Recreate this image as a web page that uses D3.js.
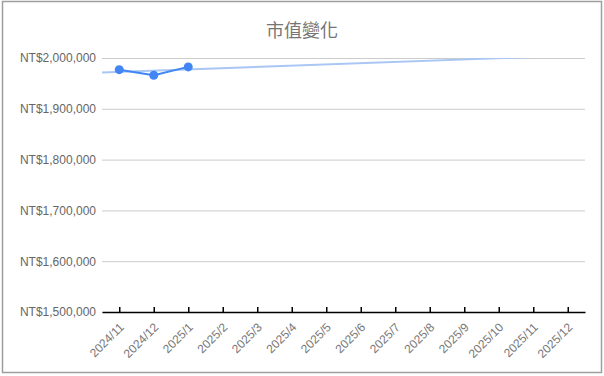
<!DOCTYPE html>
<html>
<head>
<meta charset="utf-8">
<script src="https://cdn.jsdelivr.net/npm/d3@7"></script>
<style>
  html, body { margin: 0; padding: 0; background: #fff; }
  svg { display: block; font-family: Roboto, "Noto Sans CJK TC", sans-serif; }
</style>
</head>
<body>
<div id="chart"></div>
<script>
(function() {
// chart data
var months = ["2024/11", "2024/12", "2025/1", "2025/2", "2025/3", "2025/4", "2025/5",
              "2025/6", "2025/7", "2025/8", "2025/9", "2025/10", "2025/11", "2025/12"];
var valueMonths = ["2024/11", "2024/12", "2025/1"];
var values = [1977000, 1966000, 1982500];
var trendMonths = ["2024/11", "2025/12"];
var trendValues = [1972900, 2004300];
var yTicks = [1500000, 1600000, 1700000, 1800000, 1900000, 2000000];
var title = "市值變化";

var width = 604, height = 376;
var margin = {top: 58, bottom: 64, left: 102, right: 19};

var svg = d3.select("#chart").append("svg")
            .attr("width", width)
            .attr("height", height);

// outer frame
svg.append("rect")
   .attr("x", 2.5).attr("y", 1.5)
   .attr("width", 599).attr("height", 371)
   .attr("fill", "#fff")
   .attr("stroke", "#9e9e9e")
   .attr("stroke-width", 1.5);

var plotW = width - margin.left - margin.right,
    plotH = height - margin.top - margin.bottom;

var xScale = d3.scalePoint()
               .domain(months)
               .range([margin.left, margin.left + plotW])
               .padding(0.5);

var yScale = d3.scaleLinear()
               .domain([1500000, 2000000])
               .range([margin.top + plotH, margin.top]);

var fmt = function(v) { return "NT$" + d3.format(",")(v); };

// gridlines + y labels
var yAxis = d3.axisLeft(yScale)
              .tickValues(yTicks)
              .tickFormat(fmt)
              .tickSize(-plotW)
              .tickPadding(6);
var yGroup = svg.append("g")
                .attr("transform", "translate(" + margin.left + ",0)")
                .call(yAxis);
yGroup.select(".domain").remove();
yGroup.selectAll(".tick line").attr("stroke", "#cccccc").attr("stroke-width", 1);
yGroup.selectAll(".tick text")
      .attr("fill", "#666")
      .style("font-size", "12px");

// x axis, ticks point up into the plot
var xAxis = d3.axisBottom(xScale)
              .tickSizeInner(-5)
              .tickSizeOuter(0);
var xGroup = svg.append("g")
                .attr("transform", "translate(0," + (margin.top + plotH) + ")")
                .call(xAxis);
xGroup.select(".domain").attr("stroke", "#000").attr("stroke-width", 1.5);
xGroup.selectAll(".tick line").attr("stroke", "#000").attr("stroke-width", 1.5);
xGroup.selectAll(".tick text")
      .attr("fill", "#777")
      .style("font-size", "12px")
      .attr("text-anchor", "end")
      .attr("x", 0)
      .attr("y", 0)
      .attr("dy", "0.35em")
      .attr("transform", "translate(2,13) rotate(-45)");

// clip for trendline
svg.append("clipPath").attr("id", "plot-clip")
   .append("rect")
   .attr("x", margin.left).attr("y", margin.top)
   .attr("width", plotW).attr("height", plotH);

// trendline, extended to the plot edges
var tx0 = xScale(trendMonths[0]), tx1 = xScale(trendMonths[1]);
var slope = (trendValues[1] - trendValues[0]) / (tx1 - tx0);
var trendPts = [
    [margin.left, trendValues[0] + slope * (margin.left - tx0)],
    [margin.left + plotW, trendValues[0] + slope * (margin.left + plotW - tx0)]
];
svg.append("path")
   .datum(trendPts)
   .attr("clip-path", "url(#plot-clip)")
   .attr("fill", "none")
   .attr("stroke", "#a9c6f5")
   .attr("stroke-width", 2)
   .attr("d", d3.line()
                .x(function(d) { return d[0]; })
                .y(function(d) { return yScale(d[1]); }));

// series line
var series = valueMonths.map(function(m, i) { return {m: m, v: values[i]}; });
svg.append("path")
   .datum(series)
   .attr("fill", "none")
   .attr("stroke", "#4285f4")
   .attr("stroke-width", 2)
   .attr("stroke-linejoin", "round")
   .attr("d", d3.line()
                .x(function(d) { return xScale(d.m); })
                .y(function(d) { return yScale(d.v); }));

svg.selectAll("circle.pt")
   .data(series)
   .enter().append("circle")
   .attr("class", "pt")
   .attr("cx", function(d) { return xScale(d.m); })
   .attr("cy", function(d) { return yScale(d.v); })
   .attr("r", 4.5)
   .attr("fill", "#4285f4");

// title
svg.append("text")
   .attr("x", width / 2)
   .attr("y", 37)
   .attr("text-anchor", "middle")
   .attr("fill", "#757575")
   .style("font-family", "'Noto Sans CJK TC', sans-serif")
   .style("font-size", "18px")
   .text(title);
})();
</script>
</body>
</html>
